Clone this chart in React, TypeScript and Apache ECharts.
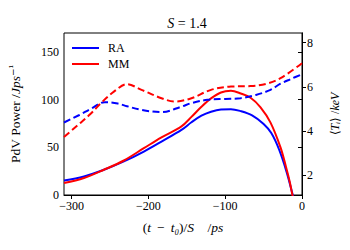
import React, { useEffect, useRef } from "react";
import * as echarts from "echarts";

// PdV power (left axis)
const raPdvT = [-310, -284, -258, -232, -206, -183, -157, -144, -131, -118.5, -105.6, -92.6, -79.7, -65, -50, -40, -30, -20, -12, -8];
const raPdv = [15.3, 19.5, 26.5, 35.2, 45.6, 56.1, 68.3, 76.3, 83.2, 87.4, 89.8, 90.1, 88, 83.5, 74.5, 65, 48, 24, 0, -12];
const mmPdvT = [-310, -284, -258, -232, -206, -183, -157, -144, -131, -118.5, -105.6, -92.6, -79.7, -67, -54, -41, -28, -21, -16, -12.5, -9];
const mmPdv = [12.5, 17.9, 26.5, 36.2, 49.1, 60.5, 72, 82, 92.6, 101.4, 107.6, 109.3, 106.5, 102, 92, 76, 50, 30, 14, 0, -12];

// <Ti> (right axis)
const raTiT = [-310, -290, -275, -257, -240, -228, -209, -183, -157, -144, -123, -100, -80, -60, -41, -28, -14, 0];
const raTi = [4.38, 4.72, 5.0, 5.3, 5.24, 5.12, 4.95, 4.85, 5.1, 5.26, 5.41, 5.45, 5.48, 5.63, 5.86, 6.14, 6.36, 6.57];
const mmTiT = [-310, -293, -276, -261, -245, -228, -209, -183, -166, -144, -118.5, -92.6, -67, -47, -28, 0];
const mmTi = [3.72, 4.23, 4.75, 5.29, 5.78, 6.12, 5.86, 5.48, 5.33, 5.48, 5.86, 6.01, 6.03, 6.13, 6.39, 7.07];

const xTicks = [-300, -200, -100, 0];
const leftTicks = [0, 50, 100, 150];
const rightTicks = [2, 4, 6, 8];

const zip = (a: number[], b: number[]) => a.map((v, i) => [v, b[i]]);

const FONT = "Liberation Serif";
const FS = 12;
const NS = 13.5;
const richName = {
  i: { fontStyle: "italic", fontFamily: FONT, fontSize: NS, color: "#000" },
  s: { fontFamily: "DejaVu Serif", fontSize: 9, color: "#000", verticalAlign: "top" },
};
const richR = {
  i: { fontStyle: "italic", fontFamily: FONT, fontSize: FS, color: "#000" },
};

export default function App() {
  const ref = useRef<HTMLDivElement>(null);
  useEffect(() => {
    const chart = echarts.init(ref.current!, null, { renderer: "svg" });
    const labelStyle = { fontFamily: FONT, fontSize: FS, color: "#000" };
    chart.setOption({
      animation: false,
      title: {
        text: "{i|S} = 1.4",
        left: 182,
        top: 11,
        textAlign: "center",
        textStyle: {
          fontFamily: FONT, fontSize: 14, fontWeight: "normal", color: "#000",
          rich: { i: { fontStyle: "italic", fontFamily: FONT, fontSize: 14, color: "#000" } },
        },
      },
      legend: {
        data: [
          { name: "RA", icon: "rect" },
          { name: "MM", icon: "rect" },
        ],
        orient: "vertical",
        left: 72,
        top: 42,
        padding: 0,
        itemWidth: 27,
        itemHeight: 2,
        itemGap: 4,
        textStyle: { fontFamily: FONT, fontSize: 12, color: "#000", padding: [0, 0, 0, 4] },
      },
      grid: { left: 62, top: 33, width: 240, height: 162, show: true, borderColor: "#000", borderWidth: 1, backgroundColor: "transparent" },
      xAxis: {
        type: "value",
        min: -310,
        max: 0,
        axisLine: { show: true, lineStyle: { color: "#000", width: 1 } },
        axisTick: { show: true, length: 4, customValues: xTicks, lineStyle: { color: "#000" } },
        axisLabel: { ...labelStyle, margin: 5, customValues: xTicks, formatter: (v: number) => String(v).replace("-", "\u2212") },
        splitLine: { show: false },
        name: "({i|t}\u2009 \u2212 \u2009{i|t\u2080})/{i|S}    /{i|ps}",
        nameLocation: "middle",
        nameGap: 25,
        nameTextStyle: { fontFamily: FONT, fontSize: NS, color: "#000", rich: richName },
      },
      yAxis: [
        {
          type: "value",
          position: "left",
          min: 0,
          max: 170,
          axisLine: { show: true, lineStyle: { color: "#000", width: 1 } },
          axisTick: { show: true, length: 4, customValues: leftTicks, lineStyle: { color: "#000" } },
          axisLabel: { ...labelStyle, margin: 5, customValues: leftTicks },
          splitLine: { show: false },
          name: "PdV Power /{i|Jps}{s|\u2212\u00B9}",
          nameLocation: "middle",
          nameRotate: 90,
          nameGap: 42,
          nameTextStyle: { fontFamily: FONT, fontSize: NS, color: "#000", rich: richName },
        },
        {
          type: "value",
          position: "right",
          min: 1.09,
          max: 8.44,
          axisLine: { show: true, lineStyle: { color: "#000", width: 1 } },
          axisTick: { show: true, length: 4, customValues: rightTicks, lineStyle: { color: "#000" } },
          axisLabel: { ...labelStyle, margin: 5, customValues: rightTicks },
          splitLine: { show: false },
          name: "\u27E8{i|T\u1D62}\u27E9 /{i|keV}",
          nameLocation: "middle",
          nameRotate: 90,
          nameGap: 27,
          nameTextStyle: { ...labelStyle, rich: richR },
        },
      ],
      series: [
        { name: "RA", type: "line", yAxisIndex: 0, data: zip(raPdvT, raPdv), smooth: 0.35, showSymbol: false, lineStyle: { color: "#0000ff", width: 2 }, itemStyle: { color: "#0000ff" } },
        { name: "MM", type: "line", yAxisIndex: 0, data: zip(mmPdvT, mmPdv), smooth: 0.35, showSymbol: false, lineStyle: { color: "#ff0000", width: 2 }, itemStyle: { color: "#ff0000" } },
        { name: "RA Ti", type: "line", yAxisIndex: 1, data: zip(raTiT, raTi), smooth: 0.35, showSymbol: false, lineStyle: { color: "#0000ff", width: 2, type: [7, 3.5] } },
        { name: "MM Ti", type: "line", yAxisIndex: 1, data: zip(mmTiT, mmTi), smooth: 0.35, showSymbol: false, lineStyle: { color: "#ff0000", width: 2, type: [7, 3.5] } },
      ],
    });
    return () => chart.dispose();
  }, []);
  return <div ref={ref} style={{ width: 350, height: 250, position: "absolute", left: 0, top: 0 }} />;
}
